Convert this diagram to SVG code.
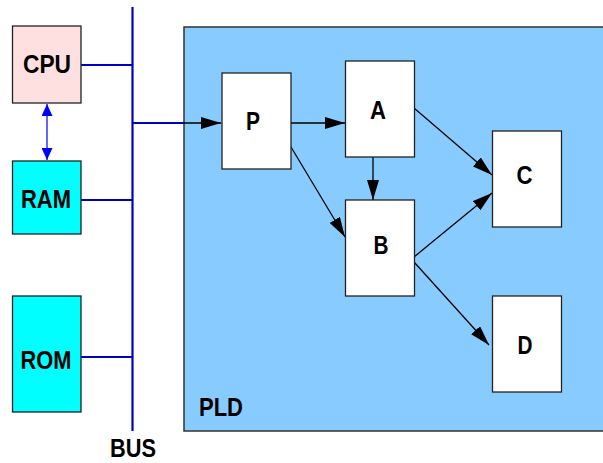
<svg xmlns="http://www.w3.org/2000/svg" width="603" height="463" viewBox="0 0 603 463">
  <style>
    .lbl { font-family: "Liberation Sans", Arial, sans-serif; font-weight: bold; font-size: 25px; fill: #000; text-anchor: middle; }
    .box { stroke: #222; stroke-width: 1.3; }
    .white { fill: #fff; }
    .bus { stroke: #0000c0; stroke-width: 2.2; fill: none; }
    .flow { stroke: #000; stroke-width: 1.3; fill: none; marker-end: url(#arrow); }
  </style>
  <defs>
    <marker id="arrow" viewBox="0 0 20 12" refX="20" refY="6" markerWidth="20" markerHeight="12" markerUnits="userSpaceOnUse" orient="auto">
      <path d="M0,0 L20,6 L0,12 Z" fill="#000"/>
    </marker>
    <marker id="barrow" viewBox="0 0 12 11" refX="12" refY="5.5" markerWidth="12" markerHeight="11" markerUnits="userSpaceOnUse" orient="auto-start-reverse">
      <path d="M0,0 L12,5.5 L0,11 Z" fill="#0000ff"/>
    </marker>
  </defs>

  <!-- programmable logic device region -->
  <g id="pld">
    <rect x="184" y="27" width="430" height="404" fill="#88ccff" stroke="#333" stroke-width="1.5"/>
    <text class="lbl" x="221" y="416" textLength="44" lengthAdjust="spacingAndGlyphs">PLD</text>
  </g>

  <!-- system bus -->
  <g id="bus">
    <line class="bus" x1="132.5" y1="7" x2="132.5" y2="431"/>
    <text class="lbl" x="133" y="457" textLength="46" lengthAdjust="spacingAndGlyphs">BUS</text>
  </g>

  <!-- connectors -->
  <g id="connectors">
    <line class="bus" x1="81" y1="65" x2="132.5" y2="65"/>
    <line class="bus" x1="81" y1="200" x2="132.5" y2="200"/>
    <line class="bus" x1="81" y1="357" x2="132.5" y2="357"/>
    <line class="bus" x1="132.5" y1="123" x2="184" y2="123"/>
    <line class="flow" x1="184" y1="123" x2="221" y2="123"/>
    <line x1="47" y1="104" x2="47" y2="160" stroke="#5555ff" stroke-width="1.8" marker-start="url(#barrow)" marker-end="url(#barrow)"/>
    <line class="flow" x1="291" y1="123" x2="345" y2="123"/>
    <line class="flow" x1="291" y1="147" x2="345" y2="237"/>
    <line class="flow" x1="373" y1="157" x2="373" y2="200"/>
    <line class="flow" x1="414" y1="108" x2="492" y2="175"/>
    <line class="flow" x1="414" y1="257" x2="492" y2="193"/>
    <line class="flow" x1="414" y1="262" x2="489" y2="345"/>
  </g>

  <g id="cpu">
    <rect class="box" x="12.5" y="26" width="68.5" height="77" fill="#ffe0e0"/>
    <text class="lbl" x="47" y="73" textLength="48" lengthAdjust="spacingAndGlyphs">CPU</text>
  </g>
  <g id="ram">
    <rect class="box" x="12.5" y="161" width="68.5" height="73" fill="#00ffff"/>
    <text class="lbl" x="46" y="208" textLength="50" lengthAdjust="spacingAndGlyphs">RAM</text>
  </g>
  <g id="rom">
    <rect class="box" x="12.5" y="296" width="68.5" height="116" fill="#00ffff"/>
    <text class="lbl" x="46" y="369" textLength="51" lengthAdjust="spacingAndGlyphs">ROM</text>
  </g>

  <g id="p">
    <rect class="box white" x="222" y="73" width="69" height="96"/>
    <text class="lbl" x="253" y="130" textLength="14" lengthAdjust="spacingAndGlyphs">P</text>
  </g>
  <g id="a">
    <rect class="box white" x="345.5" y="61" width="69" height="96"/>
    <text class="lbl" x="378" y="119" textLength="16" lengthAdjust="spacingAndGlyphs">A</text>
  </g>
  <g id="b">
    <rect class="box white" x="345.5" y="200" width="69" height="96"/>
    <text class="lbl" x="381" y="254" textLength="15" lengthAdjust="spacingAndGlyphs">B</text>
  </g>
  <g id="c">
    <rect class="box white" x="492.5" y="131" width="69" height="96"/>
    <text class="lbl" x="524.5" y="184" textLength="16" lengthAdjust="spacingAndGlyphs">C</text>
  </g>
  <g id="d">
    <rect class="box white" x="492.5" y="296" width="69" height="96"/>
    <text class="lbl" x="525" y="354" textLength="15" lengthAdjust="spacingAndGlyphs">D</text>
  </g>
</svg>
